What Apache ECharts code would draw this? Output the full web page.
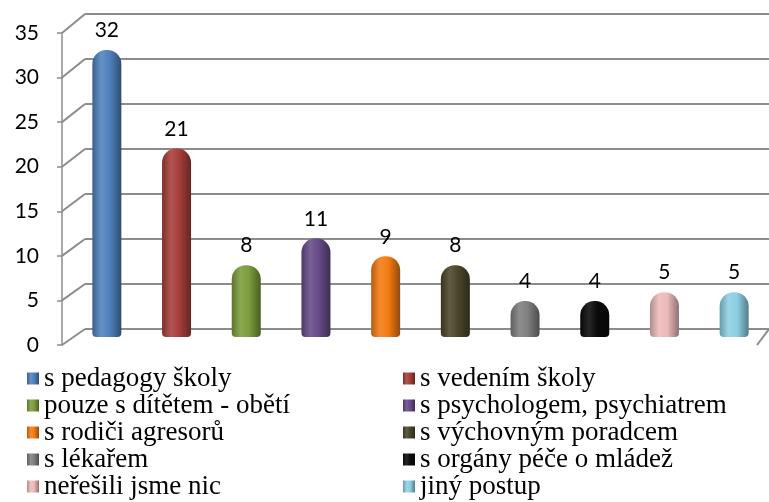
<!DOCTYPE html>
<html><head><meta charset="utf-8">
<script src="https://cdn.jsdelivr.net/npm/echarts@6/dist/echarts.min.js"></script>
<style>html,body{margin:0;padding:0;background:#fff}#c{width:769px;height:502px}</style>
</head><body><div id="c"></div>
<script>
// ---- data ----
const categories = ['s pedagogy školy','s vedením školy','pouze s dítětem - obětí','s psychologem, psychiatrem','s rodiči agresorů','s výchovným poradcem','s lékařem','s orgány péče o mládež','neřešili jsme nic','jiný postup'];
const values = [32, 21, 8, 11, 9, 8, 4, 4, 5, 5];
const yTicks = [0, 5, 10, 15, 20, 25, 30, 35];

// ---- styles ----
const barColors = ['#4F81BD','#A63E3B','#7C9C3C','#664B88','#F47B12','#4A4529','#7F7F7F','#0A0A0A','#EDBABA','#8CCFE3'];
const gridGray = '#8c8c8c';
const sansFont = 'Lato';
const serifFont = 'Liberation Serif';

function shade(hex, amt) {
  const n = parseInt(hex.slice(1), 16);
  let r = (n >> 16) & 255, g = (n >> 8) & 255, b = n & 255;
  const t = amt < 0 ? 0 : 255, p = Math.abs(amt);
  r = Math.round(r + (t - r) * p); g = Math.round(g + (t - g) * p); b = Math.round(b + (t - b) * p);
  return 'rgb(' + r + ',' + g + ',' + b + ')';
}
function cyl(c) {
  return new echarts.graphic.LinearGradient(0, 0, 1, 0, [
    { offset: 0, color: shade(c, -0.25) },
    { offset: 0.3, color: shade(c, 0.12) },
    { offset: 0.6, color: c },
    { offset: 1, color: shade(c, -0.4) }
  ]);
}

const chart = echarts.init(document.getElementById('c'), null, { renderer: 'canvas' });

const barSeries = categories.map((name, i) => ({
  type: 'bar',
  name: name,
  xAxisIndex: 0, yAxisIndex: 0,
  barWidth: 29,
  barGap: '-100%',
  data: values.map((v, j) => (j === i ? v : '-')),
  itemStyle: { color: cyl(barColors[i]), borderRadius: [14, 14, 4, 4] },
  label: { show: true, position: 'top', distance: 9, fontSize: 21, color: '#000', fontFamily: sansFont },
  z: 5
}));

const legendText = { fontFamily: serifFont, fontSize: 27, lineHeight: 22.75, color: '#000' };
const legendItems = (parity) => categories
  .filter((_, i) => i % 2 === parity)
  .map(n => ({ name: n, textStyle: legendText }));

const option = {
  animation: false,
  backgroundColor: '#fff',
  textStyle: { fontFamily: serifFont },
  grid: [
    { left: 72, top: 23, width: 700, height: 314 },   // bar plane
    { left: 85, top: 14, width: 695, height: 315 },   // back wall
    { left: 62, top: 33, width: 695, height: 312 }    // front axis
  ],
  xAxis: [
    { gridIndex: 0, type: 'category', data: categories, show: false },
    { gridIndex: 1, type: 'value', min: 0, max: 1, show: false },
    { gridIndex: 2, type: 'value', min: 0, max: 1, show: false }
  ],
  yAxis: [
    { gridIndex: 0, type: 'value', min: 0, max: 35, interval: 5, show: false },
    { gridIndex: 1, type: 'value', min: 0, max: 35, interval: 5,
      axisLine: { show: false }, axisTick: { show: false }, axisLabel: { show: false },
      splitLine: { show: true, lineStyle: { color: gridGray, width: 2 } } },
    { gridIndex: 2, type: 'value', min: 0, max: 35, interval: 5,
      axisLine: { show: true, lineStyle: { color: gridGray, width: 1.5 } },
      axisTick: { show: true, length: 5, lineStyle: { color: gridGray, width: 1.5 } },
      axisLabel: { show: true, fontSize: 21, color: '#000', fontFamily: sansFont, margin: 23 },
      splitLine: { show: false } }
  ],
  legend: [
    { data: legendItems(0), orient: 'vertical', left: 27, top: 365,
      icon: 'rect', itemWidth: 12, itemHeight: 12, itemGap: 0, padding: 0, textStyle: legendText },
    { data: legendItems(1), orient: 'vertical', left: 403, top: 365,
      icon: 'rect', itemWidth: 12, itemHeight: 12, itemGap: 0, padding: 0, textStyle: legendText }
  ],
  series: barSeries
};
chart.setOption(option);

// perspective connectors between front axis and back wall, from the library's scales
const lines = [];
const fx0 = chart.convertToPixel({ xAxisIndex: 2 }, 0);
const bx0 = chart.convertToPixel({ xAxisIndex: 1 }, 0);
yTicks.forEach(v => {
  const fy = chart.convertToPixel({ yAxisIndex: 2 }, v);
  const by = chart.convertToPixel({ yAxisIndex: 1 }, v);
  lines.push({ type: 'line', shape: { x1: fx0, y1: fy, x2: bx0, y2: by }, style: { stroke: gridGray, lineWidth: 2 }, z: 1 });
});
const fx1 = chart.convertToPixel({ xAxisIndex: 2 }, 1);
const bx1 = chart.convertToPixel({ xAxisIndex: 1 }, 1);
const fy0 = chart.convertToPixel({ yAxisIndex: 2 }, 0);
const by0 = chart.convertToPixel({ yAxisIndex: 1 }, 0);
lines.push({ type: 'line', shape: { x1: fx1, y1: fy0, x2: bx1, y2: by0 }, style: { stroke: gridGray, lineWidth: 2 }, z: 1 });
chart.setOption({ graphic: lines });
</script>
</body></html>
